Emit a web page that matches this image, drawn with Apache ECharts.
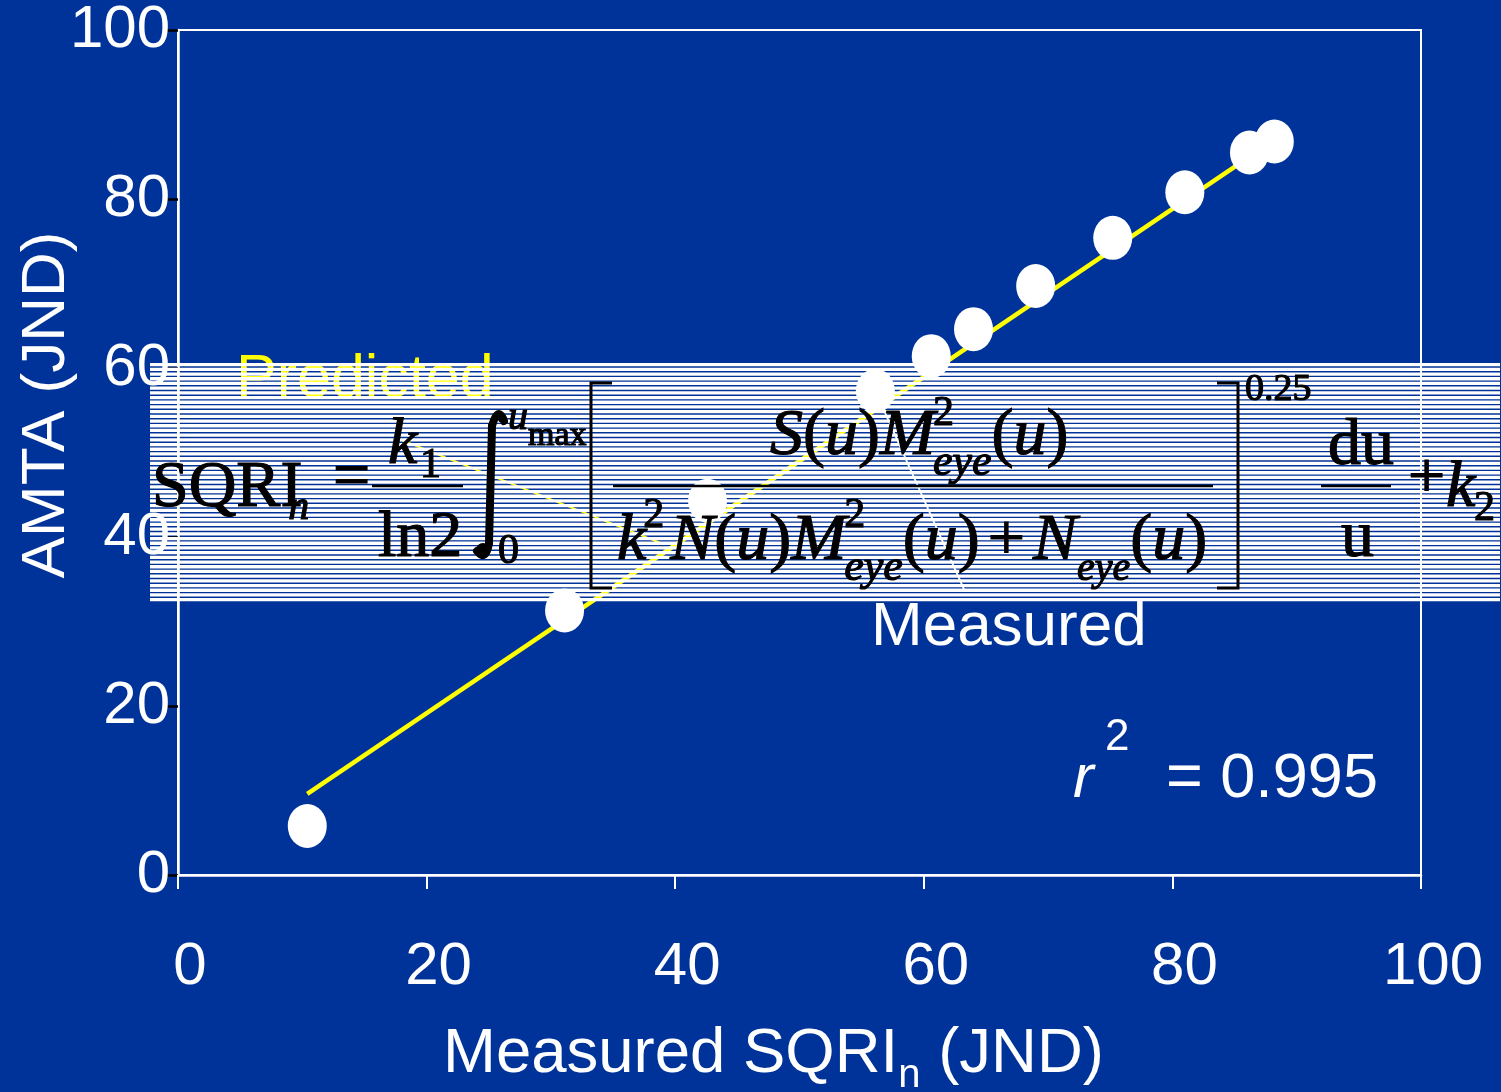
<!DOCTYPE html>
<html style="height: 100%">
<head>
    <meta charset="utf-8">
</head>
<body style="height: 100%; margin: 0">
    <div id="container" style="width: 1501px; height: 1092px"></div>
    <script src="https://cdn.jsdelivr.net/npm/echarts@6/dist/echarts.min.js"></script>
    <script>
        // measured vs. predicted (AMTA) values, JND
        const measuredSqri = [10.4, 31.1, 42.6, 56.1, 60.6, 64.0, 69.0, 75.2, 81.0, 86.2, 88.2];
        const amta = [5.8, 31.3, 44.3, 57.3, 61.4, 64.6, 69.7, 75.4, 80.8, 85.5, 86.8];
        // regression line end points
        const fitX = [10.4, 87.5];
        const fitY = [9.6, 86.3];
        // label leader lines
        const predictedLeaderX = [17.6, 38.8];
        const predictedLeaderY = [51.7, 39.3];
        const measuredLeaderX = [56.1, 63.3];
        const measuredLeaderY = [57.3, 33.6];
        const tickValues = [0, 20, 40, 60, 80, 100];

        const SERIF = 'Liberation Serif';
        const SANS = 'Liberation Sans';
        const BLUE = '#003399';

        const ctx = document.createElement('canvas').getContext('2d');
        function measure(t, size, fam, italic) {
            ctx.font = (italic ? 'italic ' : '') + size + 'px "' + fam + '"';
            return ctx.measureText(t).width;
        }

        function txt(t, x, base, size, o = {}) {
            const fill = o.fill || '#000';
            const style = {
                text: t,
                x: x,
                y: base - 0.33 * size,
                fontSize: size,
                fontFamily: o.fam || SERIF,
                fontStyle: o.it ? 'italic' : 'normal',
                fill: fill,
                align: 'left',
                textAlign: 'left',
                verticalAlign: 'middle',
                textVerticalAlign: 'middle'
            };
            // formula glyphs look a little heavier in the original
            if (fill === '#000') {
                style.stroke = '#000';
                style.lineWidth = 1.2;
            }
            return { type: 'text', z: o.z ?? 60, silent: true, style: style };
        }

        // lays pieces of an expression out left to right
        function flow(x, base, size, fam, parts, fill, z) {
            const els = [];
            parts.forEach(p => {
                const s = p.s || size;
                if (p.gap) x += p.gap;
                els.push(txt(p.t, x, base + (p.dy || 0), s, { fam: fam, it: !!p.i, fill: fill, z: z }));
                if (!p.hold) x += measure(p.t, s, fam, !!p.i);
            });
            return els;
        }

        function bar(x1, x2, y) {
            return { type: 'line', z: 60, silent: true, shape: { x1: x1, y1: y, x2: x2, y2: y }, style: { stroke: '#000', lineWidth: 2.5 } };
        }
        function bracket(xs, xe, y1, y2) {
            return { type: 'polyline', z: 60, silent: true, shape: { points: [[xe, y1], [xs, y1], [xs, y2], [xe, y2]] }, style: { stroke: '#000', lineWidth: 3, fill: null } };
        }

        // striped band behind the formula
        const stripes = [];
        for (let i = 0; i <= 50; i++) {
            stripes.push({ type: 'rect', z: 50, silent: true, shape: { x: 150, y: 363 + i * 4.7, width: 1350, height: 3.3 }, style: { fill: '#fff' } });
        }

        const integralStyle = { stroke: '#000', lineWidth: 8, fill: null, lineCap: 'round' };
        const formula = [].concat(
            flow(152, 510, 66, SERIF, [{ t: 'SQRI' }, { t: 'n', i: 1, s: 42, dy: 12, gap: -14 }]),
            [txt('=', 333, 501, 66)],
            [txt('k', 388, 467, 66, { it: 1 }), txt('1', 420, 480, 42)],
            [bar(372, 463, 486)],
            [txt('ln2', 378, 560, 66)],
            [
                { type: 'bezierCurve', z: 60, silent: true, shape: { x1: 504, y1: 421, cpx1: 498, cpy1: 405, x2: 492, y2: 426 }, style: integralStyle },
                { type: 'line', z: 60, silent: true, shape: { x1: 492, y1: 426, x2: 489, y2: 543 }, style: integralStyle },
                { type: 'bezierCurve', z: 60, silent: true, shape: { x1: 489, y1: 543, cpx1: 486, cpy1: 562, x2: 477, y2: 551 }, style: integralStyle },
                { type: 'circle', z: 60, silent: true, shape: { cx: 483, cy: 550, r: 7 }, style: { fill: '#000' } },
                { type: 'circle', z: 60, silent: true, shape: { cx: 502, cy: 418, r: 4.5 }, style: { fill: '#000' } }
            ],
            [txt('u', 508, 432, 40, { it: 1 }), txt('max', 528, 447, 34)],
            [txt('0', 498, 566, 42)],
            [bracket(591, 612, 383, 588)],
            flow(770, 458, 66, SERIF, [
                { t: 'S', i: 1 }, { t: '(' }, { t: 'u', i: 1 }, { t: ')' }, { t: 'M', i: 1 },
                { t: '2', s: 42, dy: -30, hold: 1, gap: -2 }, { t: 'eye', i: 1, s: 44, dy: 20 },
                { t: '(' }, { t: 'u', i: 1 }, { t: ')' }
            ]),
            [bar(613, 1213, 486)],
            flow(617, 563, 66, SERIF, [
                { t: 'k', i: 1 }, { t: '2', s: 42, dy: -33, gap: -3 },
                { t: 'N', i: 1, gap: 6 }, { t: '(' }, { t: 'u', i: 1 }, { t: ')' }, { t: 'M', i: 1 },
                { t: '2', s: 42, dy: -33, hold: 1, gap: -2 }, { t: 'eye', i: 1, s: 44, dy: 20 },
                { t: '(' }, { t: 'u', i: 1 }, { t: ')' },
                { t: '+', gap: 8 }, { t: 'N', i: 1, gap: 8 }, { t: 'eye', i: 1, s: 40, dy: 20 },
                { t: '(' }, { t: 'u', i: 1 }, { t: ')' }
            ]),
            [bracket(1238, 1217, 383, 588)],
            [txt('0.25', 1245, 403, 38)],
            [txt('du', 1328, 468, 66), bar(1321, 1391, 486), txt('u', 1341, 560, 66)],
            [txt('+', 1408, 501, 66), txt('k', 1446, 510, 66, { it: 1 }), txt('2', 1474, 523, 42)]
        );

        const labels = [].concat(
            [txt('Predicted', 236, 400, 61, { fam: SANS, fill: '#ffff00', z: 5 })],
            [txt('Measured', 871, 648, 62, { fam: SANS, fill: '#fff', z: 5 })],
            [txt('r', 1073, 800, 62, { fam: SANS, it: 1, fill: '#fff', z: 5 }),
             txt('2', 1105, 752, 44, { fam: SANS, fill: '#fff', z: 5 }),
             txt('= 0.995', 1166, 800, 63, { fam: SANS, fill: '#fff', z: 5 })],
            flow(443, 1075, 63.5, SANS, [
                { t: 'Measured SQRI' }, { t: 'n', s: 40, dy: 14 }, { t: ' (JND)' }
            ], '#fff', 5),
            [{
                type: 'text', z: 5, silent: true, x: 47, y: 405, rotation: Math.PI / 2,
                style: {
                    text: 'AMTA (JND)', x: 0, y: 0, fontSize: 62, fontFamily: SANS, fill: '#fff',
                    align: 'center', textAlign: 'center', verticalAlign: 'middle', textVerticalAlign: 'middle'
                }
            }]
        );

        const dom = document.getElementById('container');
        const myChart = echarts.init(dom, null, { renderer: 'canvas' });

        const option = {
            backgroundColor: BLUE,
            animation: false,
            grid: {
                left: 178, right: 80, top: 28, bottom: 217,
                show: true, borderColor: '#fff', borderWidth: 2, backgroundColor: 'transparent'
            },
            xAxis: {
                type: 'value', min: tickValues[0], max: tickValues[tickValues.length - 1], interval: 20,
                axisLine: { show: true, onZero: false, lineStyle: { color: '#fff', width: 2.5 } },
                axisTick: { show: true, length: 14, lineStyle: { color: '#fff', width: 2 } },
                axisLabel: { color: '#fff', fontSize: 60, fontFamily: SANS, margin: 62, padding: [0, 0, 0, 24] },
                splitLine: { show: false }
            },
            yAxis: {
                type: 'value', min: tickValues[0], max: tickValues[tickValues.length - 1], interval: 20,
                axisLine: { show: true, onZero: false, lineStyle: { color: '#fff', width: 2.5 } },
                axisTick: { show: true, length: 14, lineStyle: { color: '#000', width: 2.5 } },
                axisLabel: { color: '#fff', fontSize: 60, fontFamily: SANS, margin: 8, padding: [14, 0, 0, 0] },
                splitLine: { show: false }
            },
            series: [
                {
                    name: 'fit', type: 'line', z: 2, symbol: 'none', silent: true,
                    data: fitX.map((x, i) => [x, fitY[i]]),
                    lineStyle: { color: '#ffff00', width: 4.5 }
                },
                {
                    name: 'predicted leader', type: 'line', z: 2, symbol: 'none', silent: true,
                    data: predictedLeaderX.map((x, i) => [x, predictedLeaderY[i]]),
                    lineStyle: { color: '#ffff00', width: 2 }
                },
                {
                    name: 'measured leader', type: 'line', z: 2, symbol: 'none', silent: true,
                    data: measuredLeaderX.map((x, i) => [x, measuredLeaderY[i]]),
                    lineStyle: { color: '#fff', width: 1.8 }
                },
                {
                    name: 'points', type: 'scatter', z: 3,
                    symbol: 'circle', symbolSize: [39, 44],
                    data: measuredSqri.map((x, i) => [x, amta[i]]),
                    itemStyle: { color: '#fff', opacity: 1 }
                }
            ],
            graphic: labels.concat(stripes, formula)
        };

        myChart.setOption(option);
    </script>
</body>
</html>
